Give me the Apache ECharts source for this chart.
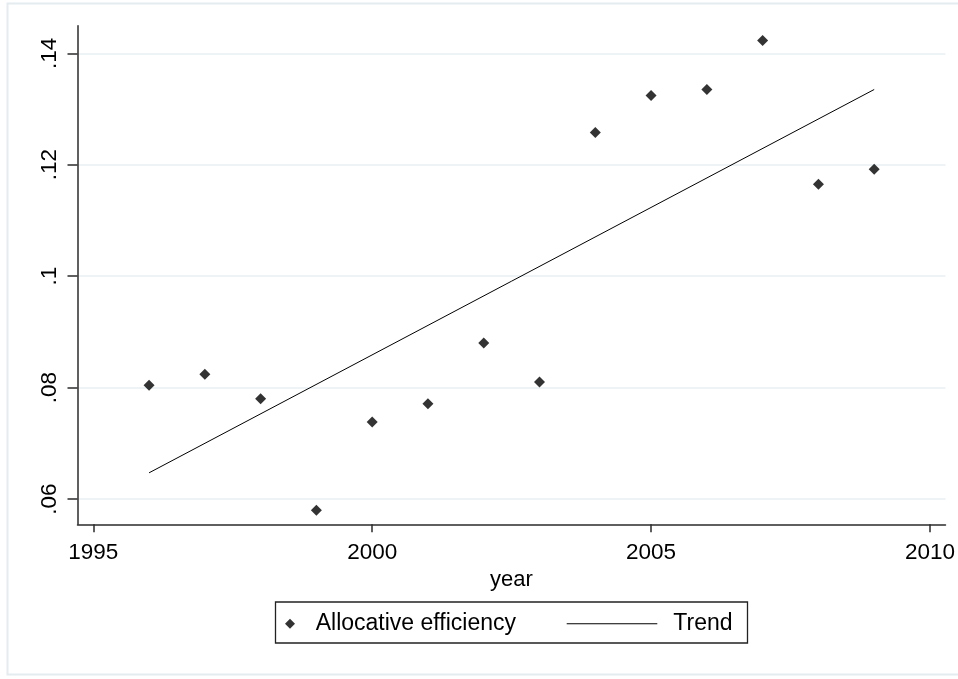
<!DOCTYPE html>
<html>
<head>
<meta charset="utf-8">
<title>Allocative efficiency</title>
<script src="https://cdn.jsdelivr.net/npm/echarts@6/dist/echarts.min.js"></script>
<style>
  html, body { margin: 0; padding: 0; background: #ffffff; }
  #chart { width: 958px; height: 679px; }
</style>
</head>
<body>
<div id="chart"></div>
<script>
// Observed allocative efficiency by year
const years = [1996, 1997, 1998, 1999, 2000, 2001, 2002, 2003, 2004, 2005, 2006, 2007, 2008, 2009];
const efficiency = [0.0804, 0.0824, 0.0780, 0.0580, 0.0738, 0.0771, 0.0880, 0.0810, 0.1258, 0.1324, 0.1335, 0.1423, 0.1165, 0.1192];

// Fitted linear trend, end points
const trendYears = [1996, 2009];
const trendValues = [0.0647, 0.1335];

// Axis ticks and their labels
const xTicks = [1995, 2000, 2005, 2010];
const yTicks = [0.06, 0.08, 0.10, 0.12, 0.14];
const yTickLabels = ['.06', '.08', '.1', '.12', '.14'];

const FONT = "'Liberation Sans', Arial, Helvetica, sans-serif";
const AXIS_COLOR = '#2b2b2b';
const GRID_COLOR = '#e9f0f3';

const chart = echarts.init(document.getElementById('chart'), null, { renderer: 'canvas' });

const option = {
  animation: false,
  backgroundColor: '#ffffff',
  textStyle: { fontFamily: FONT },
  grid: { left: 77.5, right: 12.5, top: 25.7, bottom: 154.7, containLabel: false },
  xAxis: {
    type: 'value',
    min: 1994.717,
    max: 2010.278,
    name: 'year',
    nameLocation: 'middle',
    nameGap: 43,
    nameTextStyle: { fontFamily: FONT, fontSize: 22, color: '#000' },
    axisLine: { show: true, onZero: false, lineStyle: { color: AXIS_COLOR, width: 1.5 } },
    axisTick: { show: true, customValues: xTicks, length: 8, lineStyle: { color: AXIS_COLOR, width: 1.5 } },
    axisLabel: {
      customValues: xTicks,
      margin: 16.5,
      fontFamily: FONT, fontSize: 22.5, color: '#000',
      formatter: v => String(Math.round(v))
    },
    splitLine: { show: false }
  },
  yAxis: {
    type: 'value',
    min: 0.05546,
    max: 0.14495,
    axisLine: { show: true, onZero: false, lineStyle: { color: AXIS_COLOR, width: 1.5 } },
    axisTick: { show: true, customValues: yTicks, length: 10, lineStyle: { color: AXIS_COLOR, width: 1.5 } },
    axisLabel: {
      customValues: yTicks,
      rotate: 90,
      margin: 16,
      fontFamily: FONT, fontSize: 22.5, color: '#000',
      formatter: v => {
        const i = yTicks.findIndex(t => Math.abs(t - v) < 1e-6);
        return i >= 0 ? yTickLabels[i] : '';
      }
    },
    splitLine: { show: true, lineStyle: { color: GRID_COLOR, width: 1.5 } }
  },
  legend: [
    {
      data: [{ name: 'Allocative efficiency', icon: 'diamond' }],
      left: 285,
      top: 612.2,
      padding: 0,
      itemWidth: 10,
      itemHeight: 10,
      itemStyle: { color: '#000' },
      textStyle: { fontFamily: FONT, fontSize: 23, color: '#000', padding: [0, 0, 0, 15.7] },
      selectedMode: false
    },
    {
      // plain horizontal stroke as the key for the trend line
      data: [{ name: 'Trend', icon: 'path://M0,0H90V1H0Z' }],
      left: 566.7,
      top: 612.2,
      padding: 0,
      itemWidth: 90.6,
      itemHeight: 10,
      itemStyle: { color: '#000' },
      textStyle: { fontFamily: FONT, fontSize: 23, color: '#000', padding: [0, 0, 0, 11] },
      selectedMode: false
    }
  ],
  graphic: [
    {
      type: 'rect',
      silent: true,
      shape: { x: 7.5, y: 3.5, width: 960, height: 671 },
      style: { fill: 'none', stroke: '#e4ecf0', lineWidth: 2 }
    },
    {
      type: 'rect',
      silent: true,
      shape: { x: 275.5, y: 602, width: 472, height: 41 },
      style: { fill: 'none', stroke: '#222', lineWidth: 1.3 }
    }
  ],
  series: [
    {
      name: 'Allocative efficiency',
      type: 'scatter',
      symbol: 'diamond',
      symbolSize: 11,
      itemStyle: { color: '#000' },
      data: years.map((y, i) => [y, efficiency[i]]),
      z: 3
    },
    {
      name: 'Trend',
      type: 'line',
      symbol: 'none',
      lineStyle: { color: '#000', width: 1 },
      itemStyle: { color: '#000' },
      data: trendYears.map((y, i) => [y, trendValues[i]]),
      z: 2
    }
  ]
};

chart.setOption(option);
</script>
</body>
</html>
